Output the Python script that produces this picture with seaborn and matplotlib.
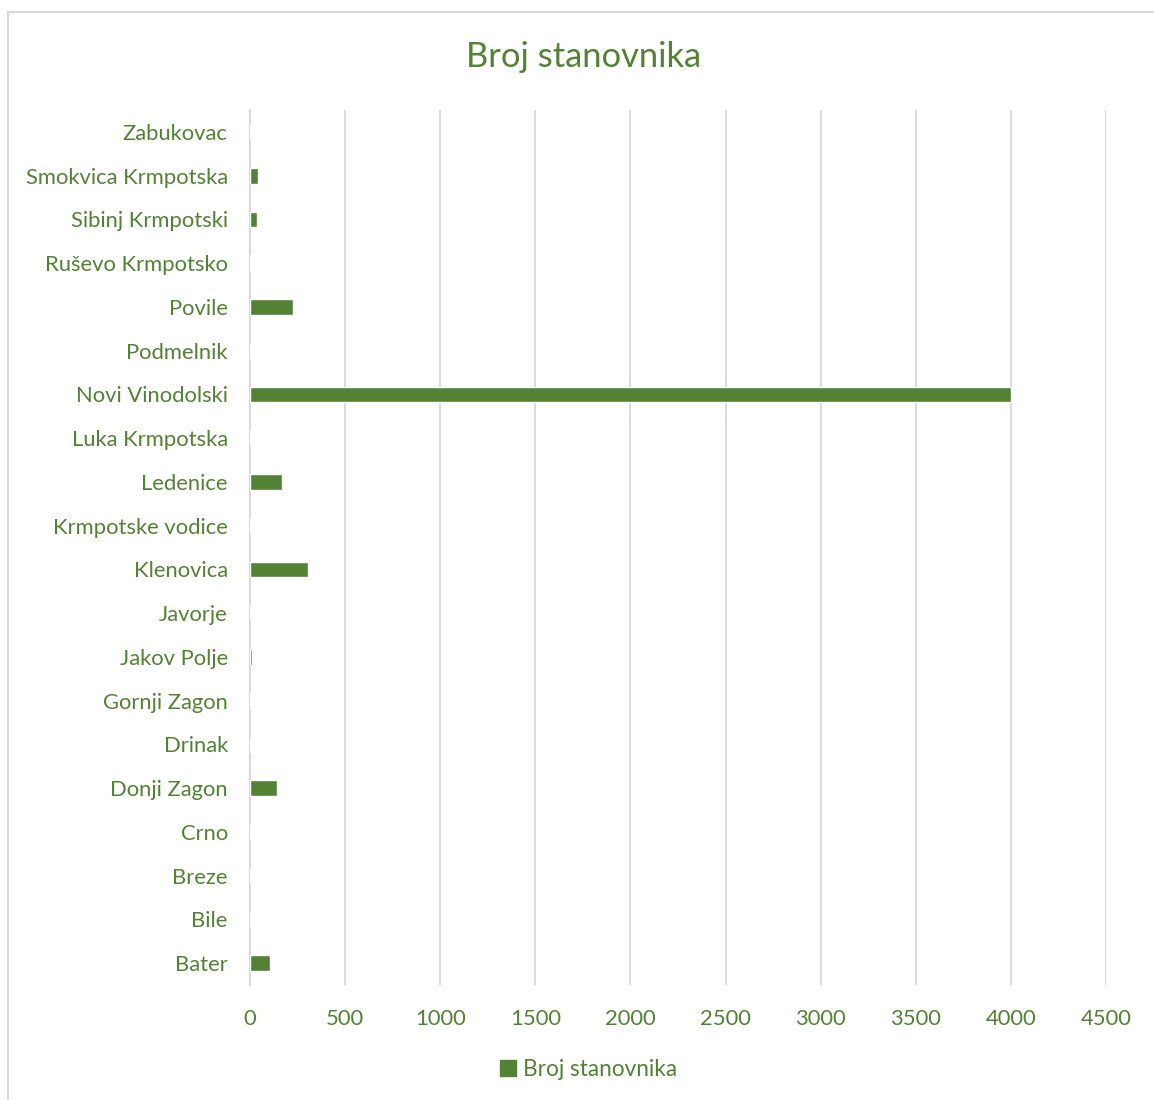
import matplotlib
matplotlib.use("Agg")
import matplotlib.pyplot as plt
import matplotlib.patches as mpatches
import seaborn as sns
import pandas as pd

# Population per settlement
settlements = [
    "Bater", "Bile", "Breze", "Crno", "Donji Zagon", "Drinak", "Gornji Zagon",
    "Jakov Polje", "Javorje", "Klenovica", "Krmpotske vodice", "Ledenice",
    "Luka Krmpotska", "Novi Vinodolski", "Podmelnik", "Povile",
    "Ruševo Krmpotsko", "Sibinj Krmpotski", "Smokvica Krmpotska", "Zabukovac",
]
population = [105, 2, 2, 0, 142, 4, 4, 12, 0, 303, 0, 168, 0, 4000, 0, 226,
              3, 37, 42, 0]
x_ticks = [0, 500, 1000, 1500, 2000, 2500, 3000, 3500, 4000, 4500]
series_name = "Broj stanovnika"

GREEN = "#548235"
TEXT = "#548235"
GRID = "#d9d9d9"

sns.set_theme(style="white")
plt.rcParams["font.family"] = ["Lato", "DejaVu Sans"]

df = pd.DataFrame({"naselje": settlements, "stanovnika": population})
order = settlements[::-1]

fig = plt.figure(figsize=(11.54, 11.0), dpi=100)
ax = fig.add_axes([250 / 1154, 1 - 985 / 1100, 856 / 1154, 875 / 1100])

sns.barplot(data=df, x="stanovnika", y="naselje", order=order, orient="h",
            color=GREEN, saturation=1, width=0.36, ax=ax)

ax.set_xlim(0, 4500)
ax.set_xticks(x_ticks)
ax.set_xticklabels([str(t) for t in x_ticks])
ax.set_xlabel("")
ax.set_ylabel("")
ax.grid(axis="x", color=GRID, linewidth=1.3)
ax.set_axisbelow(True)
for side in ("top", "right", "bottom"):
    ax.spines[side].set_visible(False)
ax.spines["left"].set_color(GRID)
ax.spines["left"].set_linewidth(1.5)
ax.spines["left"].set_zorder(0.5)
ax.tick_params(axis="both", length=0, labelsize=15.8, colors=TEXT)
ax.tick_params(axis="y", pad=16)
ax.tick_params(axis="x", pad=17)

fig.text(0.506, 1 - 57 / 1100, "Broj stanovnika", ha="center", va="center",
         fontsize=24.8, color=TEXT)

handle = mpatches.Patch(color=GREEN, label=series_name)
fig.legend(handles=[handle], loc="center", bbox_to_anchor=(0.51, 1 - 1069 / 1100),
           frameon=False, fontsize=16.3, labelcolor=TEXT, handlelength=0.7,
           handleheight=0.7, handletextpad=0.3)

# Outer chart border
fig.patches.append(mpatches.Rectangle((8 / 1154, -0.01), 1.2, 1 - 12 / 1100 + 0.01,
                                      transform=fig.transFigure, fill=False,
                                      edgecolor=GRID, linewidth=1.5))

fig.savefig("out.png", dpi=100)
